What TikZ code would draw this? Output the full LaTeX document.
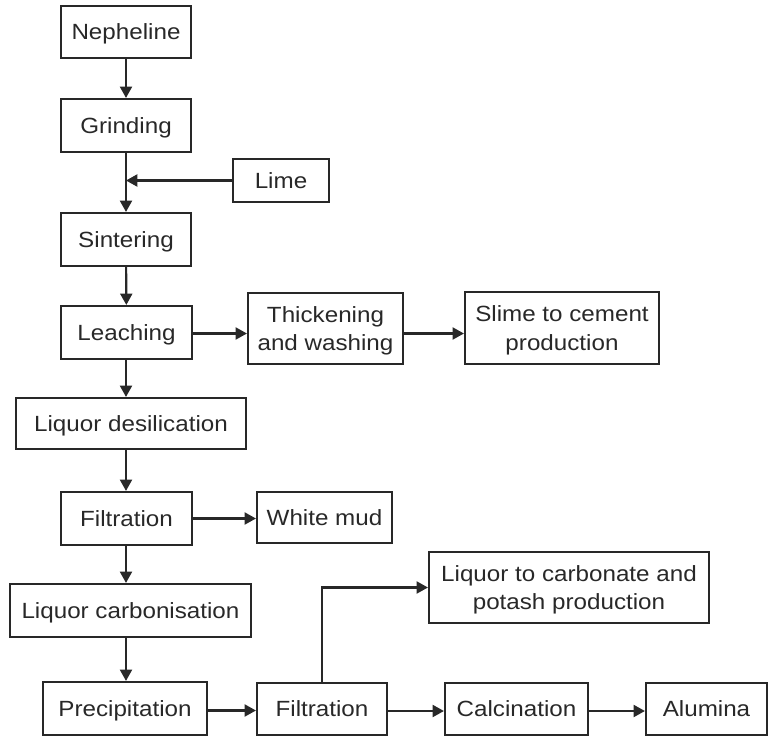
\documentclass[tikz,border=0pt]{standalone}
\usepackage{fontspec}
\newfontfamily\dfont{Liberation Sans}[FakeStretch=1.1]
\usetikzlibrary{arrows.meta}
\definecolor{ink}{RGB}{40,40,40}
\tikzset{
  box/.style={draw=ink, line width=1.6pt, inner sep=0pt, align=center, text=ink, text depth=0pt,
    font={\dfont\fontsize{16.5}{21.5}\selectfont}},
  sz/.style 2 args={minimum width=#1*0.75pt, minimum height=#2*0.75pt},
  flow/.style={draw=ink, line width=1.6pt, -{Triangle[length=8.5pt,width=9pt]}},
}
\begin{document}
\begin{tikzpicture}[x=0.75pt,y=-0.75pt]
\useasboundingbox (0,0) rectangle (769,740);
\node[box, sz={130}{52}] (nep) at (126,32) {Nepheline};
\node[box, sz={130}{53}] (grin) at (126,125.5) {Grinding};
\node[box, sz={96}{43}] (lime) at (281,180.5) {Lime};
\node[box, sz={130}{53}] (sint) at (126,239.5) {Sintering};
\node[box, sz={131}{53}] (leach) at (126.5,332.5) {Leaching};
\node[box, sz={155}{71}] (thick) at (325.5,328.5) {Thickening\\and washing};
\node[box, sz={194}{72}] (slime) at (562,328) {Slime to cement\\production};
\node[box, sz={230}{51}] (desil) at (131,423.5) {Liquor desilication};
\node[box, sz={131}{53}] (filt) at (126.5,518.5) {Filtration};
\node[box, sz={135}{51}] (mud) at (324.5,517.5) {White mud};
\node[box, sz={241}{53}] (carb) at (130.5,610.5) {Liquor carbonisation};
\node[box, sz={280}{71}] (liq) at (569,587.5) {Liquor to carbonate and\\potash production};
\node[box, sz={164}{53}] (prec) at (125,708.5) {Precipitation};
\node[box, sz={130}{52}] (filt2) at (322,709) {Filtration};
\node[box, sz={143}{52}] (calc) at (516.5,709) {Calcination};
\node[box, sz={121}{52}] (alum) at (706.5,709) {Alumina};
\coordinate (join) at (126,180.5);
\draw[flow] (nep) -- (grin);
\draw[flow] (grin) -- (sint);
\draw[flow] (lime.west) -- (join);
\draw[flow] (sint) -- (leach);
\draw[flow] ([yshift=-0.75pt]leach.east) -- ([yshift=-0.75pt]leach.east -| thick.west);
\draw[flow] ([yshift=-3.75pt]thick.east) -- ([yshift=-3.75pt]thick.east -| slime.west);
\draw[flow] (leach.south -| 126,0) -- (desil.north -| 126,0);
\draw[flow] (desil.south -| 126,0) -- (filt.north -| 126,0);
\draw[flow] (filt.east) -- (filt.east -| mud.west);
\draw[flow] (filt.south -| 126,0) -- (carb.north -| 126,0);
\draw[flow] (carb.south -| 126,0) -- (prec.north -| 126,0);
\draw[flow] ([yshift=-1.5pt]prec.east) -- ([yshift=-1.5pt]prec.east -| filt2.west);
\draw[flow] (filt2.north) |- (liq.west);
\draw[flow] ([yshift=-1.5pt]filt2.east) -- ([yshift=-1.5pt]filt2.east -| calc.west);
\draw[flow] ([yshift=-1.5pt]calc.east) -- ([yshift=-1.5pt]calc.east -| alum.west);
\end{tikzpicture}
\end{document}
